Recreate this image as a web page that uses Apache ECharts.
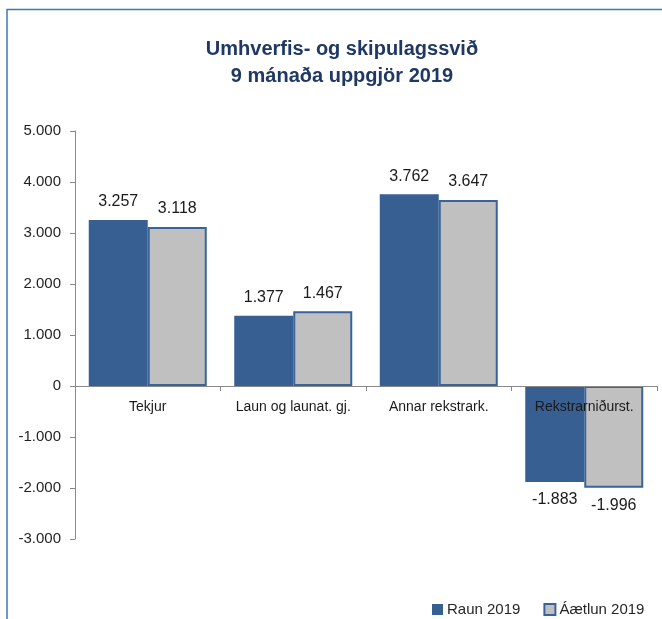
<!DOCTYPE html>
<html>
<head>
<meta charset="utf-8">
<script src="https://cdn.jsdelivr.net/npm/echarts@6/dist/echarts.min.js"></script>
<style>html,body{margin:0;padding:0;background:#fff}#c{width:662px;height:619px}</style>
</head>
<body>
<div id="c"></div>
<script>
var titleLines = ['Umhverfis- og skipulagssvið', '9 mánaða uppgjör 2019'];
var categories = ['Tekjur', 'Laun og launat. gj.', 'Annar rekstrark.', 'Rekstrarniðurst.'];
var seriesNames = ['Raun 2019', 'Áætlun 2019'];
var raun = [3257, 1377, 3762, -1883];
var aaetlun = [3118, 1467, 3647, -1996];
var yTicks = [-3000, -2000, -1000, 0, 1000, 2000, 3000, 4000, 5000];

var Y_MIN = yTicks[0], Y_MAX = yTicks[yTicks.length - 1];
var GRID_TOP = 131, GRID_BOTTOM = 80, H = 619;
var gridH = H - GRID_TOP - GRID_BOTTOM;
var zeroOffset = -((0 - Y_MIN) / (Y_MAX - Y_MIN)) * gridH;

function fmt(v) {
  var s = Math.abs(v).toString().replace(/\B(?=(\d{3})+(?!\d))/g, '.');
  return (v < 0 ? '-' : '') + s;
}
var FONT = 'Liberation Sans';
function mkData(arr) {
  return arr.map(function (v) {
    return { value: v, label: { position: v < 0 ? 'bottom' : 'top' } };
  });
}
var chart = echarts.init(document.getElementById('c'), null, { renderer: 'canvas' });
chart.setOption({
  animation: false,
  backgroundColor: '#ffffff',
  textStyle: { fontFamily: FONT },
  graphic: [{
    type: 'rect', silent: true, z: 100,
    shape: { x: 7, y: 9.5, width: 800, height: 800 },
    style: { fill: 'none', stroke: '#3E78B2', lineWidth: 1.5 }
  }],
  title: {
    text: titleLines.join('\n'),
    left: 337, textAlign: 'center', top: 31,
    textStyle: { fontFamily: FONT, fontSize: 20, fontWeight: 'bold', color: '#1F3864', lineHeight: 27 }
  },
  legend: {
    data: seriesNames,
    icon: 'rect',
    left: 427, top: 597,
    itemWidth: 11, itemHeight: 11, itemGap: 23,
    textStyle: { fontFamily: FONT, fontSize: 15, color: '#262626', padding: [0, 0, 0, -1] }
  },
  grid: { left: 75, right: 5, top: GRID_TOP, bottom: GRID_BOTTOM, containLabel: false },
  xAxis: {
    type: 'category', data: categories, z: 10,
    position: 'bottom', offset: zeroOffset,
    axisLine: { onZero: false, lineStyle: { color: '#898989', width: 1 } },
    axisTick: { show: true, length: 5, lineStyle: { color: '#898989' } },
    axisLabel: { fontFamily: FONT, fontSize: 14, color: '#1a1a1a', margin: 14, interval: 0 }
  },
  yAxis: {
    type: 'value', min: Y_MIN, max: Y_MAX, interval: 1000,
    axisLine: { show: true, lineStyle: { color: '#898989' } },
    axisTick: { show: true, length: 5, lineStyle: { color: '#898989' } },
    splitLine: { show: false },
    axisLabel: {
      fontFamily: FONT, fontSize: 15, color: '#1f1f1f', margin: 14,
      formatter: function (v) { return yTicks.indexOf(v) >= 0 ? fmt(v) : ''; }
    }
  },
  series: [{
    name: seriesNames[0], type: 'bar', data: mkData(raun),
    barWidth: 59, barGap: '0%',
    itemStyle: { color: '#375F91', borderColor: '#375F91', borderWidth: 0 },
    label: { show: true, distance: 10, fontFamily: FONT, fontSize: 16, color: '#1a1a1a',
      formatter: function (p) { return fmt(p.value); } }
  }, {
    name: seriesNames[1], type: 'bar', data: mkData(aaetlun),
    barWidth: 59, barGap: '0%',
    itemStyle: { color: '#C0C0C0', borderColor: '#3A6399', borderWidth: 2 },
    label: { show: true, distance: 10, fontFamily: FONT, fontSize: 16, color: '#1a1a1a',
      formatter: function (p) { return fmt(p.value); } }
  }]
});
</script>
</body>
</html>
